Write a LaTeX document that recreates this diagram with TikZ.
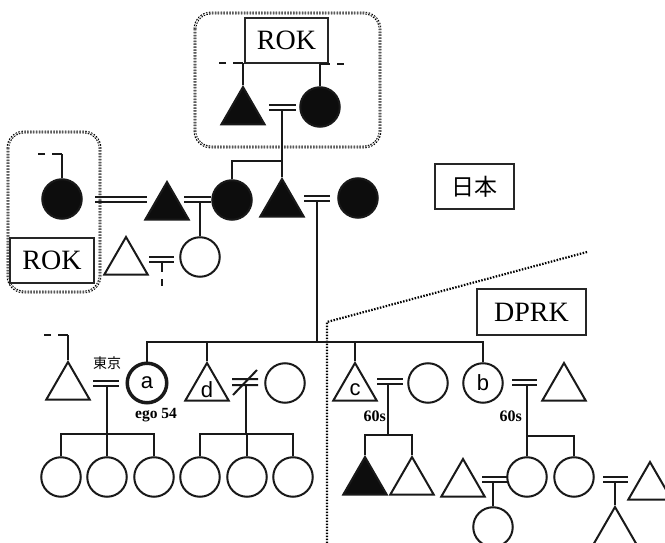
\documentclass[tikz,border=0pt]{standalone}
\usepackage{fontspec}
\setmainfont{Liberation Serif}
\newfontfamily\lsans{Liberation Sans}
\newfontfamily\jp{Noto Sans CJK JP}
\usetikzlibrary{shapes.geometric}

% marriage sign: two short bars, x from #1 to #2, upper bar at #3
\newcommand\mrg[3]{\draw[kin] (#1,#3) -- (#2,#3) (#1,#3+5) -- (#2,#3+5);}

\begin{document}
\begin{tikzpicture}[x=1pt,y=-1pt,
  kin/.style={line width=2pt,black!90},
  anc/.style={kin,dash pattern=on 10pt off 7pt on 7pt off 7pt},
  fem/.style={circle,draw=black!90,fill=white,line width=2pt,minimum size=39.5pt,inner sep=0pt,
    font=\lsans\fontsize{22}{22}\selectfont},
  femd/.style={fem,fill=black!95},
  male/.style={regular polygon,regular polygon sides=3,draw=black!90,fill=white,line width=2pt,
    minimum size=50pt,inner sep=0pt},
  maled/.style={male,fill=black!95},
  tag/.style={label={[font=\lsans\fontsize{22}{22}\selectfont,yshift=-2pt]center:#1}},
  namebox/.style={draw=black!85,line width=1.2pt,fill=white,inner sep=0pt,
    font=\fontsize{28}{28}\selectfont},
  region/.style={draw=black,double=white,double distance=0.6pt,line width=1.1pt,
    dash pattern=on 1.5pt off 1.4pt,rounded corners=16pt},
  border/.style={draw=black,line width=2.2pt,dash pattern=on 1.5pt off 1.5pt},
  note/.style={font=\bfseries\fontsize{16}{16}\selectfont,inner sep=0pt}]

\fill[white] (0,0) rectangle (665,543);
\useasboundingbox (0,0) rectangle (665,543);

% ROK groupings
\draw[region] (195,13) rectangle (380,147);
\draw[region] (8,132) rectangle (100,292);

% border between Japan and DPRK
\coordinate (bd1) at (587,252);
\coordinate (bd2) at (327,322);
\coordinate (bd3) at (327,543);
\draw[border] (bd1) -- (bd2) -- (bd3);

% country labels
\node[namebox,minimum width=83pt,minimum height=45pt] (rok1) at (286.5,40.5) {ROK};
\node[namebox,minimum width=84pt,minimum height=45pt] (rok2) at (52,260.5) {ROK};
\node[namebox,minimum width=79pt,minimum height=45pt,font=\jp\fontsize{23}{23}\selectfont] (jpn) at (474.5,186.5) {日本};
\node[namebox,minimum width=109pt,minimum height=46pt] (dprk) at (531.5,312) {DPRK};

% ---- generation I
\node[maled] (gf) at (243,112) {};
\node[femd] (gm) at (320,107) {};
\draw[kin] (gf.north) -- ++(0,-22) coordinate (gfa);
\draw[anc] (gfa) -- ++(-25,0);
\draw[kin] (gm.north) -- ++(0,-22) coordinate (gma);
\draw[anc] (gma) -- ++(27,0);
\mrg{269}{296}{105}
\coordinate (m1) at (282,110);

% ---- generation II
\node[femd] (w1) at (62,199) {};
\draw[kin] (w1.north) -- ++(0,-24) coordinate (w1a);
\draw[anc] (w1a) -- ++(-25,0);
\draw[kin] (95,197) -- (147,197) (95,202) -- (147,202);
\node[maled] (h1) at (167,207) {};
\mrg{184}{211}{197}
\coordinate (m2) at (200,202);
\node[femd] (s1) at (232,200) {};
\node[maled] (f1) at (282,204) {};
\mrg{304}{330}{196}
\coordinate (m3) at (317,201);
\node[femd] (w2) at (358,198) {};
\draw[kin] (m1) -- (f1.north);
\draw[kin] (s1.north) -- ++(0,-18) -| (m1);

\node[male] (h2) at (126,262) {};
\mrg{149}{174}{257}
\coordinate (m4) at (162,262);
\node[fem] (s2) at (200,257) {};
\draw[kin] (m2) -- (s2.north);
\draw[anc] (m4) -- ++(0,28);

% ---- generation III
\coordinate (sb3) at (317,342);
\draw[kin] (m3) -- (sb3);

\node[male] (h3) at (68,387) {};
\draw[kin] (h3.north) -- ++(0,-25) coordinate (h3a);
\draw[anc] (h3a) -- ++(-25,0);
\node[font=\jp\fontsize{14}{14}\selectfont,inner sep=0pt] (tokyo) at (107,363) {東京};
\mrg{93}{119}{381}
\coordinate (ma) at (107,386);
\node[fem,line width=3.5pt] (ego) at (147,383) {a};
\node[note,font=\bfseries\fontsize{15.5}{15.5}\selectfont] (egolbl) at (156,415) {ego 54};
\node[male,tag=d] (bd) at (207,388) {};
\draw[kin] (232,379) -- (258,379) (232,385) -- (258,385) (233,395) -- (257,370);
\coordinate (md) at (246,385);
\node[fem] (wd) at (285,383) {};

\node[male,tag=c] (bc) at (355,388) {};
\mrg{377}{403}{379}
\coordinate (mc) at (388,384);
\node[fem] (wc) at (428,383) {};
\node[note,anchor=east] (ageC) at (386,416) {60s};
\node[fem] (sb) at (483,383) {b};
\mrg{512}{537}{380}
\coordinate (mb) at (527,385);
\node[male] (hb) at (564,388) {};
\node[note,anchor=east] (ageB) at (522,416) {60s};

\foreach \k in {ego,bd,bc,sb} \draw[kin] (\k.north) |- (sb3);

% ---- generation IV: children of a
\coordinate (sba) at (107,434);
\draw[kin] (ma) -- (sba);
\node[fem] (a1) at (61,477) {};
\node[fem] (a2) at (107,477) {};
\node[fem] (a3) at (154,477) {};
\foreach \k in {a1,a2,a3} \draw[kin] (\k.north) |- (sba);

% children of d
\coordinate (sbd) at (246,434);
\draw[kin] (md) -- (sbd);
\node[fem] (d1) at (200,477) {};
\node[fem] (d2) at (247,477) {};
\node[fem] (d3) at (293,477) {};
\foreach \k in {d1,d2,d3} \draw[kin] (\k.north) |- (sbd);

% children of c
\coordinate (sbc) at (388,435);
\draw[kin] (mc) -- (sbc);
\node[maled] (c1) at (365,482) {};
\node[male] (c2) at (412,482) {};
\foreach \k in {c1,c2} \draw[kin] (\k.north) |- (sbc);

% children of b
\coordinate (sbb) at (527,436);
\draw[kin] (mb) -- (sbb);
\node[fem] (b1) at (527,477) {};
\node[fem] (b2) at (574,477) {};
\draw[kin] (b1.north) -- (sbb);
\draw[kin] (b2.north) |- (sbb);

\node[male] (hb1) at (463,484) {};
\mrg{482}{507}{477}
\coordinate (mb1) at (493,482);
\node[fem] (gb1) at (493,527) {};
\draw[kin] (mb1) -- (gb1.north);

\mrg{603}{628}{477}
\coordinate (mb2) at (615,482);
\node[male] (gb2) at (615,532) {};
\node[male] (hb2) at (650,487) {};
\draw[kin] (mb2) -- (gb2.north);
\end{tikzpicture}
\end{document}
